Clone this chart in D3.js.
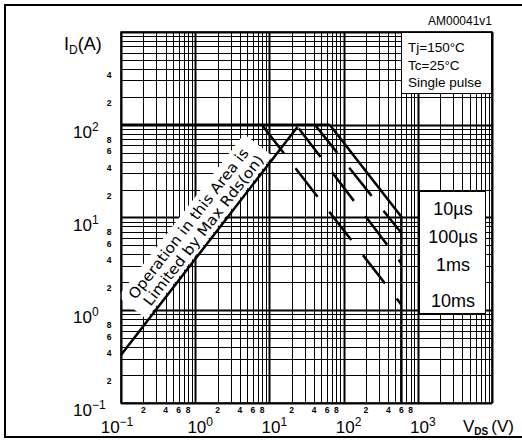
<!DOCTYPE html>
<html>
<head>
<meta charset="utf-8">
<script src="https://cdn.jsdelivr.net/npm/d3@7"></script>
<style>
body { margin: 0; background: #fff; }
svg { display: block; font-family: "Liberation Sans", Arial, sans-serif; }
</style>
</head>
<body>
<svg id="chart" width="522" height="443"></svg>
<script>
// safe operating area, V in volts, I in amps
const rdsLimit = [[0.1, 0.33], [24, 95]];
const currentLimit = [[0.1, 100], [65, 100]];
const curve10us = [[65, 100], [600, 10.2], [600, 0.1]];
const curve100us = [[41, 100], [600, 6.8]];
const curve1ms = [[24, 95], [600, 3.2]];
const curve10ms = [[7.9, 100], [600, 1.15]];

const pulseLabels = ["10\u00b5s", "100\u00b5s", "1ms", "10ms"];
const legendLines = ["Tj=150\u00b0C", "Tc=25\u00b0C", "Single pulse"];
const xDecades = [-1, 0, 1, 2, 3];
const yDecades = [-1, 0, 1, 2];
const xMinorTicks = [0.2, 0.4, 0.6, 0.8, 2, 4, 6, 8, 20, 40, 60, 80, 200, 400, 600, 800];
const yMinorTicks = [0.2, 0.4, 0.6, 0.8, 2, 4, 6, 8, 20, 40, 60, 80, 200, 400];

const svg = d3.select("#chart");
const plotL = 121, plotR = 492, plotT = 32, plotB = 403;

const x = d3.scaleLog().domain([0.1, 1e4]).range([plotL, plotR]);
const y = d3.scaleLog().domain([0.1, 1e3]).range([plotB, plotT]);

// outer frame
svg.append("rect")
    .attr("x", 5).attr("y", 5)
    .attr("width", 530).attr("height", 432)
    .attr("fill", "none").attr("stroke", "#000").attr("stroke-width", 2);

// grid
function gridValues(lo, hi) {
    const out = [];
    for (let d = lo; d < hi; d++) {
        for (let k = 1; k < 10; k++) out.push({v: k * Math.pow(10, d), major: k === 1});
    }
    out.push({v: Math.pow(10, hi), major: true});
    return out;
}
const crisp = v => Math.round(v) + 0.5;
const grid = svg.append("g").attr("stroke", "#000");
grid.selectAll(".vx").data(gridValues(-1, 4)).enter().append("line")
    .attr("x1", d => crisp(x(d.v))).attr("x2", d => crisp(x(d.v)))
    .attr("y1", plotT).attr("y2", plotB)
    .attr("stroke-width", d => d.major ? 2 : 1);
grid.selectAll(".hy").data(gridValues(-1, 3)).enter().append("line")
    .attr("y1", d => crisp(y(d.v))).attr("y2", d => crisp(y(d.v)))
    .attr("x1", plotL).attr("x2", plotR)
    .attr("stroke-width", d => d.major ? 2 : 1);

// white band behind the Rds(on) note
const p0 = [x(rdsLimit[0][0]), y(rdsLimit[0][1])];
const p1 = [x(rdsLimit[1][0]), y(rdsLimit[1][1])];
const angle = Math.atan2(p1[1] - p0[1], p1[0] - p0[0]) * 180 / Math.PI;
const note = svg.append("g")
    .attr("transform", "translate(" + p0[0] + "," + p0[1] + ") rotate(" + angle + ")");
note.append("rect")
    .attr("x", 44).attr("y", -38).attr("width", 206).attr("height", 36)
    .attr("fill", "#fff");

// legend box top right
svg.append("rect")
    .attr("x", 401.5).attr("y", 32.5).attr("width", 90).attr("height", 61)
    .attr("fill", "#fff").attr("stroke", "#000").attr("stroke-width", 1);
svg.selectAll(".leg").data(legendLines).enter().append("text")
    .attr("x", 408).attr("y", (d, i) => 52 + i * 17.5)
    .attr("font-size", 13.5).text(d => d);

// pulse label box
svg.append("rect")
    .attr("x", 419.5).attr("y", 191.5).attr("width", 66).attr("height", 122)
    .attr("fill", "#fff").attr("stroke", "#000").attr("stroke-width", 1);
const pulseY = [215, 243, 271, 307];
svg.selectAll(".pl").data(pulseLabels).enter().append("text")
    .attr("x", 453).attr("y", (d, i) => pulseY[i])
    .attr("text-anchor", "middle").attr("font-size", 18).text(d => d);

// curves
const line = d3.line().x(d => x(d[0])).y(d => y(d[1]));
function drawCurve(data, dashed, offset) {
    svg.append("path")
        .attr("d", line(data))
        .attr("fill", "none").attr("stroke", "#000")
        .attr("stroke-width", 2.5)
        .attr("stroke-dasharray", dashed ? "36,19" : null)
        .attr("stroke-dashoffset", offset || 0);
}
drawCurve(rdsLimit, false);
drawCurve(currentLimit, false);
drawCurve(curve10us, false);
drawCurve(curve100us, true);
drawCurve(curve1ms, true, -2);
drawCurve(curve10ms, true);

// Rds(on) note text
note.append("text")
    .attr("x", 52).attr("y", -22)
    .attr("font-family", "DejaVu Sans").attr("font-size", 14.5)
    .attr("textLength", 186).attr("lengthAdjust", "spacingAndGlyphs")
    .text("Operation in this Area is");
note.append("text")
    .attr("x", 56).attr("y", -6)
    .attr("font-family", "DejaVu Sans").attr("font-size", 14.5)
    .attr("textLength", 186).attr("lengthAdjust", "spacingAndGlyphs")
    .text("Limited by Max Rds(on)");

// plot border
svg.append("rect")
    .attr("x", plotL).attr("y", plotT).attr("width", plotR - plotL).attr("height", plotB - plotT)
    .attr("fill", "none").attr("stroke", "#000").attr("stroke-width", 1.5);

// x tick labels
svg.selectAll(".xm").data(xMinorTicks).enter().append("text")
    .attr("x", d => x(d)).attr("y", 413)
    .attr("text-anchor", "middle").attr("font-size", 8.5).attr("font-weight", "bold")
    .text(d => String(d).replace(/[0.]/g, ""));
const xLab = svg.selectAll(".xd").data(xDecades).enter().append("text")
    .attr("x", d => x(Math.pow(10, d)) + (d < 0 ? -4 : 5)).attr("y", 433)
    .attr("text-anchor", "middle").attr("font-size", 17);
xLab.append("tspan").text("10");
xLab.append("tspan").attr("dy", -7).attr("font-size", 12)
    .text(d => d < 0 ? "\u2212" + (-d) : d);

// y tick labels
svg.selectAll(".ym").data(yMinorTicks).enter().append("text")
    .attr("x", 109).attr("y", d => y(d) + 9)
    .attr("text-anchor", "middle").attr("font-size", 8.5).attr("font-weight", "bold")
    .text(d => String(d).replace(/[0.]/g, ""));
const yLab = svg.selectAll(".yd").data(yDecades).enter().append("text")
    .attr("x", 73).attr("y", d => y(Math.pow(10, d)) + 13)
    .attr("font-size", 17);
yLab.append("tspan").text("10");
yLab.append("tspan").attr("dy", -7).attr("font-size", 12)
    .text(d => d < 0 ? "\u2212" + (-d) : d);

// axis titles
const yTitle = svg.append("text").attr("x", 64).attr("y", 50).attr("font-size", 18);
yTitle.append("tspan").text("I");
yTitle.append("tspan").attr("dy", 4).attr("font-size", 12).text("D");
yTitle.append("tspan").attr("dy", -4).text("(A)");

const xTitle = svg.append("text").attr("x", 463).attr("y", 432).attr("font-size", 17);
xTitle.append("tspan").text("V");
xTitle.append("tspan").attr("dy", 3).attr("font-size", 10).attr("font-weight", "bold").text("DS");
xTitle.append("tspan").attr("dy", -3).attr("dx", 3).text("(V)");

svg.append("text")
    .attr("x", 492).attr("y", 25).attr("text-anchor", "end")
    .attr("font-size", 12).text("AM00041v1");
</script>
</body>
</html>
